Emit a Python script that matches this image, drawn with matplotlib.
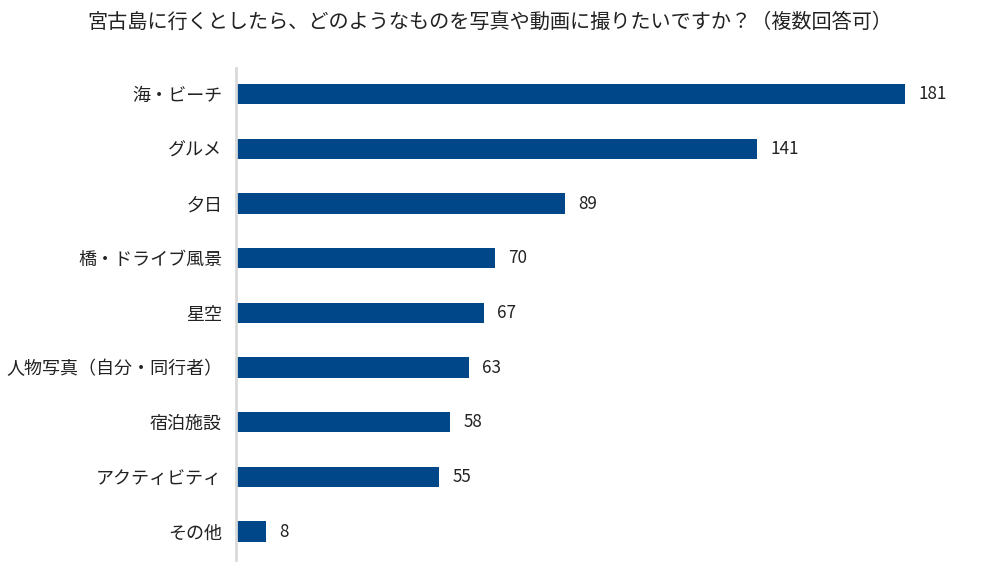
import matplotlib.pyplot as plt

plt.rcParams['font.family'] = ['Noto Sans CJK JP', 'DejaVu Sans']

TITLE = "宮古島に行くとしたら、どのようなものを写真や動画に撮りたいですか？（複数回答可）"
categories = ["海・ビーチ", "グルメ", "夕日", "橋・ドライブ風景", "星空",
              "人物写真（自分・同行者）", "宿泊施設", "アクティビティ", "その他"]
counts = [181, 141, 89, 70, 67, 63, 58, 55, 8]

BAR_COLOR = "#00478a"

fig = plt.figure(figsize=(9.87, 5.82), dpi=100)
ax = fig.add_axes([236 / 987, 22 / 582, (975 - 236) / 987, (560 - 68) / 582])

y = list(range(len(categories)))
ax.barh(y, counts, height=0.37, color=BAR_COLOR, zorder=2)
for yi, v in zip(y, counts):
    ax.text(v + 3.6, yi, str(v), va="center", ha="left", fontsize=12.3, color="#222222")

ax.set_xlim(0, 200)
ax.set_ylim(len(categories) - 0.5 + 0.02, -0.5 + 0.02)
ax.set_yticks(y)
ax.set_yticklabels(categories, fontsize=13, color="#222222")
ax.tick_params(axis="y", length=0, pad=10)
ax.set_xticks([])
for side in ("top", "right", "bottom"):
    ax.spines[side].set_visible(False)
ax.spines["left"].set_color("#d9d9d9")
ax.spines["left"].set_linewidth(2)

fig.text(490 / 987, 1 - 22 / 582, TITLE, ha="center", va="center", fontsize=14.5, color="#222222")

fig.savefig("out.png", dpi=100)
